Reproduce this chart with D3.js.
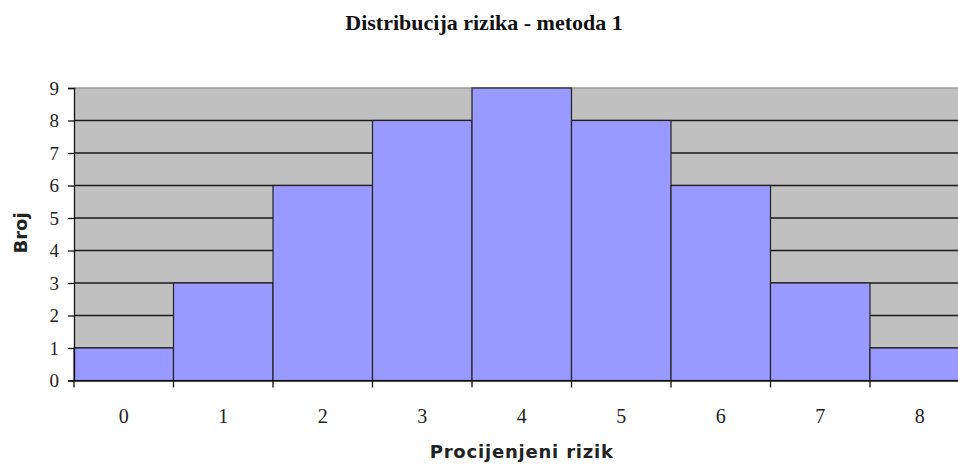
<!DOCTYPE html>
<html><head><meta charset="utf-8">
<script src="https://cdn.jsdelivr.net/npm/d3@7"></script>
<style>body{margin:0;background:#fff;overflow:hidden}</style>
</head><body>
<svg id="c" width="958" height="464"></svg>
<script>
const categories = ["0","1","2","3","4","5","6","7","8"];
const counts = [1,3,6,8,9,8,6,3,1];
const yTicks = [0,1,2,3,4,5,6,7,8,9];
const title = "Distribucija rizika - metoda 1";
const xTitle = "Procijenjeni rizik";
const yTitle = "Broj";

const svg = d3.select("#c");
const L = 74, R = 969.5, T = 88, B = 380.5;
const x = d3.scaleBand().domain(categories).range([L, R]).padding(0);
const y = d3.scaleLinear().domain([0, 9]).range([B, T]);

svg.append("rect").attr("x", L).attr("y", T).attr("width", R - L).attr("height", B - T).attr("fill", "#c0c0c0");

// grid
svg.append("g").selectAll("line").data(yTicks.filter(d => d > 0)).join("line")
  .attr("x1", L).attr("x2", R).attr("y1", d => y(d)).attr("y2", d => y(d))
  .attr("stroke", d => d === 9 ? "#9a9a9a" : "#1a1a1a").attr("stroke-width", d => d === 9 ? 1.5 : 1.3);

// bars
svg.append("g").selectAll("rect").data(counts).join("rect")
  .attr("x", (d, i) => x(categories[i]))
  .attr("y", d => y(d))
  .attr("width", x.bandwidth())
  .attr("height", d => B - y(d))
  .attr("fill", "#9999ff").attr("stroke", "#222").attr("stroke-width", 1.2);

// y axis
const ya = svg.append("g").attr("transform", `translate(${L},0)`)
  .call(d3.axisLeft(y).tickValues(yTicks).tickFormat(d3.format("d")).tickSize(6).tickPadding(9));
ya.attr("font-size", null).attr("font-family", null);
ya.select(".domain").attr("stroke", "#111").attr("stroke-width", 1.3);
ya.selectAll(".tick line").attr("stroke", "#111").attr("stroke-width", 1.3);
ya.selectAll("text").style("font-family", "Liberation Serif").style("font-size", "19px").attr("fill", "#222");

// x axis
const xa = svg.append("g").attr("transform", `translate(0,${B})`)
  .call(d3.axisBottom(x).tickSize(0).tickPadding(42));
xa.attr("font-size", null).attr("font-family", null);
xa.select(".domain").attr("stroke", "#111").attr("stroke-width", 1.3);
xa.selectAll("text").attr("dy", null).style("font-family", "Liberation Serif").style("font-size", "20px").attr("fill", "#222");
// boundary ticks
svg.append("g").selectAll("line").data(categories).join("line")
  .attr("x1", d => x(d)).attr("x2", d => x(d)).attr("y1", B).attr("y2", B + 7)
  .attr("stroke", "#111").attr("stroke-width", 1.3);

svg.append("text").attr("x", 484).attr("y", 30).attr("text-anchor", "middle")
  .style("font-family", "Liberation Serif").attr("font-weight", "bold").style("font-size", "22px")
  .attr("fill", "#111").text(title);

svg.append("text").attr("x", (L + R) / 2).attr("y", 458).attr("text-anchor", "middle")
  .style("font-family", "DejaVu Sans").attr("font-weight", "bold").style("font-size", "18px")
  .attr("fill", "#222").attr("letter-spacing", 0.8).text(xTitle);

svg.append("text").attr("transform", "translate(27,233) rotate(-90)").attr("text-anchor", "middle")
  .style("font-family", "DejaVu Sans").attr("font-weight", "bold").style("font-size", "18px")
  .attr("fill", "#222").text(yTitle);
</script>
</body></html>
